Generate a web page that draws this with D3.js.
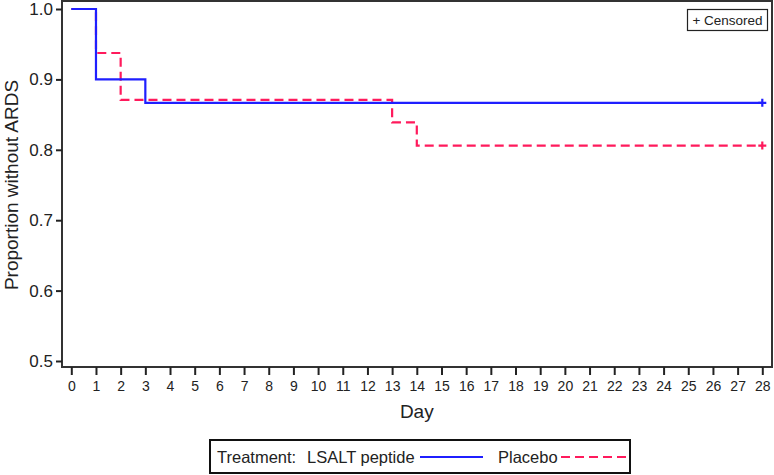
<!DOCTYPE html>
<html><head><meta charset="utf-8">
<script src="https://cdn.jsdelivr.net/npm/d3@7"></script>
<style>body{margin:0;background:#fff;} text{font-family:Arial,"Liberation Sans",Helvetica,sans-serif;}</style>
</head><body>
<svg id="c" width="774" height="475"></svg>
<script>
const lsaltDays = [0, 1, 3, 28];
const lsaltSurv = [1.0, 0.9, 0.8667, 0.8667];
const placeboDays = [0, 1, 2, 13, 14, 28];
const placeboSurv = [1.0, 0.9375, 0.871, 0.839, 0.806, 0.806];
const censorLsalt = [[28, 0.8667]];
const censorPlacebo = [[28, 0.806]];
const xTicks = d3.range(0, 29);
const yTicks = [0.5, 0.6, 0.7, 0.8, 0.9, 1.0];
const seriesNames = ["LSALT peptide", "Placebo"];
const colors = ["#1f1fff", "#ff1a5c"];

const svg = d3.select("#c");
const frame = {l: 62, r: 772, t: 1, b: 367};
const x = d3.scaleLinear().domain([0, 28]).range([71.3, 762.3]);
const y = d3.scaleLinear().domain([0.5, 1.0]).range([361, 9]);
const FF = "Arial, 'Liberation Sans', sans-serif";

// frame
svg.append("rect").attr("x", frame.l).attr("y", frame.t)
  .attr("width", frame.r - frame.l).attr("height", frame.b - frame.t)
  .attr("fill", "none").attr("stroke", "#333").attr("stroke-width", 2);

// y axis
const ya = svg.append("g").attr("transform", `translate(${frame.l},0)`)
  .call(d3.axisLeft(y).tickValues(yTicks).tickFormat(d3.format(".1f")).tickSize(6).tickPadding(3));
ya.select(".domain").remove();
ya.selectAll(".tick line").attr("stroke", "#222").attr("stroke-width", 2);
ya.selectAll(".tick text").attr("font-size", 17).attr("fill", "#222").attr("font-family", FF);

// x axis
const xa = svg.append("g").attr("transform", `translate(0,${frame.b})`)
  .call(d3.axisBottom(x).tickValues(xTicks).tickFormat(d3.format("d")).tickSize(8).tickPadding(6));
xa.select(".domain").remove();
xa.selectAll(".tick line").attr("stroke", "#222").attr("stroke-width", 2);
xa.selectAll(".tick text").attr("font-size", 14).attr("fill", "#222").attr("font-family", FF);

// axis titles
svg.append("text").attr("x", x(14)).attr("y", 418).attr("text-anchor", "middle")
  .attr("font-size", 19).attr("fill", "#222").text("Day");
svg.append("text").attr("transform", `translate(18,${y(0.75)}) rotate(-90)`)
  .attr("text-anchor", "middle").attr("font-size", 19).attr("fill", "#222").text("Proportion without ARDS");

// step lines
const line = d3.line().x(d => x(d[0])).y(d => y(d[1])).curve(d3.curveStepAfter);
function pts(days, surv){ return days.map((d,i)=>[d, surv[i]]); }
svg.append("path").datum(pts(placeboDays, placeboSurv)).attr("d", line)
  .attr("fill", "none").attr("stroke", colors[1]).attr("stroke-width", 2.2).attr("stroke-dasharray", "9,5");
svg.append("path").datum(pts(lsaltDays, lsaltSurv)).attr("d", line)
  .attr("fill", "none").attr("stroke", colors[0]).attr("stroke-width", 2.2);

// censor marks
function plus(data, col){
  svg.append("g").selectAll("path").data(data).join("path")
    .attr("d", d => `M${x(d[0])-4},${y(d[1])}h8M${x(d[0])},${y(d[1])-4}v8`)
    .attr("stroke", col).attr("stroke-width", 2.2).attr("fill", "none");
}
plus(censorLsalt, colors[0]);
plus(censorPlacebo, colors[1]);

// censored legend
svg.append("rect").attr("x", 687.5).attr("y", 9.5).attr("width", 80).attr("height", 21)
  .attr("fill", "#fff").attr("stroke", "#222").attr("stroke-width", 1.2);
svg.append("text").attr("x", 727.5).attr("y", 25).attr("text-anchor", "middle")
  .attr("font-size", 13.5).attr("fill", "#222").text("+ Censored");

// bottom legend
svg.append("rect").attr("x", 210).attr("y", 440).attr("width", 420).attr("height", 33)
  .attr("fill", "#fff").attr("stroke", "#111").attr("stroke-width", 2);
svg.append("text").attr("x", 217).attr("y", 463).attr("font-size", 16.5).attr("fill", "#222")
  .text("Treatment:");
svg.append("text").attr("x", 307).attr("y", 463).attr("font-size", 16.5).attr("fill", "#222").text(seriesNames[0]);
svg.append("line").attr("x1", 420).attr("x2", 483).attr("y1", 457).attr("y2", 457)
  .attr("stroke", colors[0]).attr("stroke-width", 2.2);
svg.append("text").attr("x", 498).attr("y", 463).attr("font-size", 16.5).attr("fill", "#222").text(seriesNames[1]);
svg.append("line").attr("x1", 561).attr("x2", 626).attr("y1", 457).attr("y2", 457)
  .attr("stroke", colors[1]).attr("stroke-width", 2.2).attr("stroke-dasharray", "9,5");
</script>
</body></html>
